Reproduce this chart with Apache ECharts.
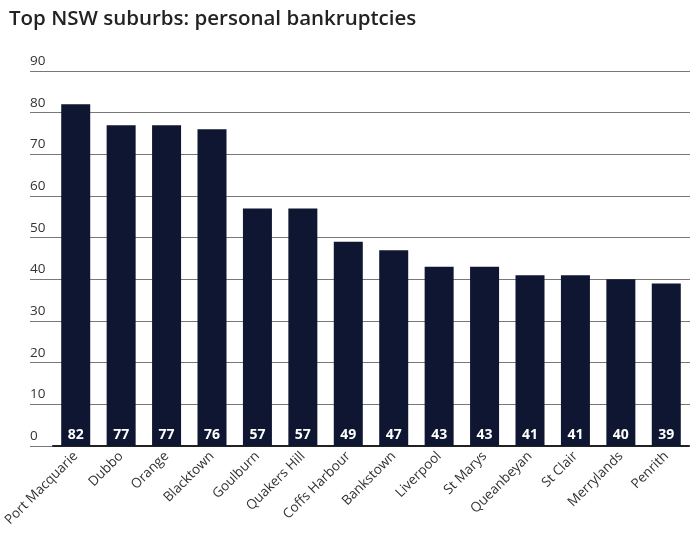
<!DOCTYPE html><html><head><meta charset="utf-8"><script src="https://cdn.jsdelivr.net/npm/echarts@6/dist/echarts.min.js"></script></head><body style="margin:0;background:#fff"><div id="c" style="width:700px;height:545px"></div><script>
const categories=["Port Macquarie","Dubbo","Orange","Blacktown","Goulburn","Quakers Hill","Coffs Harbour","Bankstown","Liverpool","St Marys","Queanbeyan","St Clair","Merrylands","Penrith"];
const values=[82,77,77,76,57,57,49,47,43,43,41,41,40,39];
const chart=echarts.init(document.getElementById('c'));
const f='"Open Sans", sans-serif';
chart.setOption({
 title:{text:'Top NSW suburbs: personal bankruptcies',left:4,top:4,textStyle:{fontFamily:f,fontSize:20.5,fontWeight:600,color:'#222'}},
 grid:[{left:30,right:10,top:71,bottom:99},{left:53,right:11,top:71,bottom:99}],
 xAxis:[{gridIndex:0,type:'category',data:[''],show:false},
  {gridIndex:1,type:'category',data:categories,axisTick:{show:false},axisLine:{lineStyle:{color:'#222',width:2}},
   axisLabel:{rotate:45,interval:0,fontFamily:f,fontSize:13.5,color:'#333',margin:8}}],
 yAxis:[{gridIndex:0,type:'value',min:0,max:90,interval:10,axisLabel:{show:true,align:'left',verticalAlign:'bottom',margin:0,inside:true,fontFamily:f,fontSize:13.5,color:'#333',padding:[0,0,3,0]},splitLine:{lineStyle:{color:'#777'}},axisLine:{show:false},axisTick:{show:false}},
  {gridIndex:1,type:'value',min:0,max:90,interval:10,show:false}],
 series:[{type:'bar',xAxisIndex:1,yAxisIndex:1,data:values,barWidth:29,itemStyle:{color:'#0f1631'},
  label:{show:true,position:'insideBottom',distance:4,color:'#fff',fontFamily:f,fontSize:14,fontWeight:'bold'}}]
});
</script></body></html>
